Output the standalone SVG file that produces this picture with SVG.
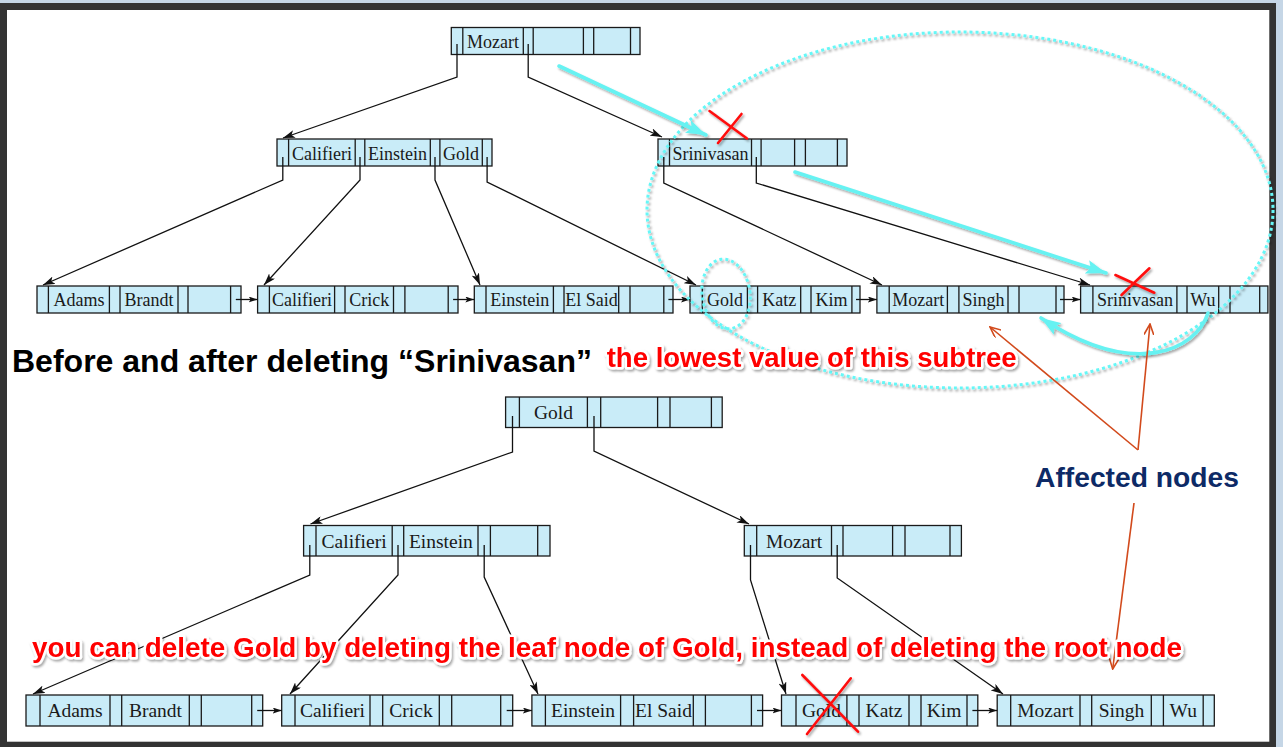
<svg xmlns="http://www.w3.org/2000/svg" width="1283" height="747" viewBox="0 0 1283 747">
<defs>
<style>
.nd rect{fill:#c9ecf8;stroke:#1a1a1a;stroke-width:1.3}
.nd path{fill:none;stroke:#1a1a1a;stroke-width:1.3}
.nd text{font-family:"Liberation Serif","DejaVu Serif",serif;fill:#1a1a1a;text-anchor:middle}
.t1 text{font-size:18px}
.t2 text{font-size:19.5px}
.cn path{fill:none;stroke:#111;stroke-width:1.3}
.cy{fill:none;stroke:#66f2f2;stroke-width:3.6;stroke-linecap:round}
.dot{fill:none;stroke:#66f7f7;stroke-width:3;stroke-dasharray:3 3}
.rx{stroke:#ff1010;stroke-width:2.6;fill:none;stroke-linecap:round}
.or{stroke:#d24a1c;stroke-width:1.6;fill:none}
.red{font-family:"Liberation Sans",Arial,sans-serif;font-weight:bold;fill:#ff0000;stroke:#ffffff;stroke-width:5;stroke-linejoin:round;paint-order:stroke}
</style>
<filter id="sh" x="-10%" y="-20%" width="125%" height="150%">
<feDropShadow dx="1.5" dy="2" stdDeviation="1.3" flood-color="#000" flood-opacity="0.35"/>
</filter>
<marker id="ah" viewBox="0 0 12 8" refX="12" refY="4" markerWidth="12" markerHeight="8" markerUnits="userSpaceOnUse" orient="auto">
<path d="M0,0 L12,4 L0,8 L3,4 z" fill="#111"/>
</marker>
<marker id="ahs" viewBox="0 0 9 6" refX="9" refY="3" markerWidth="9" markerHeight="6" markerUnits="userSpaceOnUse" orient="auto">
<path d="M0,0 L9,3 L0,6 L2,3 z" fill="#111"/>
</marker>
<marker id="ahc" viewBox="0 0 20 14" refX="20" refY="7" markerWidth="20" markerHeight="14" markerUnits="userSpaceOnUse" orient="auto">
<path d="M0,0 L20,7 L0,14 L4,7 z" fill="#66f2f2"/>
</marker>
<marker id="aho" viewBox="0 0 12 10" refX="11" refY="5" markerWidth="12" markerHeight="10" markerUnits="userSpaceOnUse" orient="auto">
<path d="M0,0 L11,5 L0,10" fill="none" stroke="#d24a1c" stroke-width="1.6"/>
</marker>
</defs>

<!-- frame -->
<rect x="0" y="0" width="1283" height="747" fill="#c5d6e6"/>
<rect x="0" y="3" width="1276" height="744" fill="#333333"/>
<rect x="7" y="10" width="1262.3" height="731.7" fill="#ffffff"/>

<!-- BEFORE tree -->
<g id="before-root" class="nd t1">
<rect x="451.3" y="27.5" width="188.7" height="27"/>
<path d="M462.8 27.5V54.5M523.3 27.5V54.5M533.2 27.5V54.5M583.4 27.5V54.5M593.7 27.5V54.5M630.5 27.5V54.5"/>
<text x="493" y="47.5">Mozart</text>
</g>
<g id="before-int-califieri" class="nd t1">
<rect x="277" y="139" width="215" height="27"/>
<path d="M288.6 139V166M355.2 139V166M364.8 139V166M430.3 139V166M439.9 139V166M482.3 139V166"/>
<text x="321.9" y="159.5">Califieri</text>
<text x="397.5" y="159.5">Einstein</text>
<text x="461.1" y="159.5">Gold</text>
</g>
<g id="before-int-srinivasan" class="nd t1">
<rect x="658" y="139" width="189" height="27"/>
<path d="M669.5 139V166M751.5 139V166M761.1 139V166M794.6 139V166M805.4 139V166M837.4 139V166"/>
<text x="710.5" y="159.5">Srinivasan</text>
</g>
<g id="before-leaf-adams" class="nd t1">
<rect x="37" y="286" width="204" height="27"/>
<path d="M48.4 286V313M109.4 286V313M120 286V313M178 286V313M188 286V313M230.6 286V313"/>
<text x="78.9" y="306">Adams</text>
<text x="149" y="306">Brandt</text>
</g>
<g id="before-leaf-califieri" class="nd t1">
<rect x="257.6" y="286" width="200.4" height="27"/>
<path d="M269.4 286V313M334.6 286V313M345 286V313M393.5 286V313M404.9 286V313M448.2 286V313"/>
<text x="302" y="306">Califieri</text>
<text x="369.3" y="306">Crick</text>
</g>
<g id="before-leaf-einstein" class="nd t1">
<rect x="474.3" y="286" width="198.7" height="27"/>
<path d="M486 286V313M553.4 286V313M564 286V313M618.7 286V313M630 286V313M663.8 286V313"/>
<text x="519.7" y="306">Einstein</text>
<text x="591.4" y="306">El Said</text>
</g>
<g id="before-leaf-gold" class="nd t1">
<rect x="690" y="286" width="170" height="27"/>
<path d="M702.3 286V313M747.4 286V313M757.6 286V313M800.7 286V313M811 286V313M851.9 286V313"/>
<text x="724.9" y="306">Gold</text>
<text x="779.2" y="306">Katz</text>
<text x="831.5" y="306">Kim</text>
</g>
<g id="before-leaf-mozart" class="nd t1">
<rect x="876.9" y="286" width="187.1" height="27"/>
<path d="M889.2 286V313M947.4 286V313M958.9 286V313M1008 286V313M1019 286V313M1056 286V313"/>
<text x="918.3" y="306">Mozart</text>
<text x="983.5" y="306">Singh</text>
</g>
<g id="before-leaf-srinivasan" class="nd t1">
<rect x="1080.6" y="286" width="187.3" height="27"/>
<path d="M1092.9 286V313M1176.9 286V313M1187 286V313M1218.7 286V313M1230 286V313M1259.7 286V313"/>
<text x="1134.9" y="306">Srinivasan</text>
<text x="1202.9" y="306">Wu</text>
</g>

<!-- AFTER tree -->
<g id="after-root" class="nd t2">
<rect x="505.6" y="397" width="216.6" height="30.5"/>
<path d="M519.4 397V427.5M587.4 397V427.5M600.7 397V427.5M657.6 397V427.5M670 397V427.5M711.4 397V427.5"/>
<text x="553.4" y="418.5">Gold</text>
</g>
<g id="after-int-califieri" class="nd t2">
<rect x="303.6" y="525.5" width="246.4" height="30.5"/>
<path d="M316 525.5V556M392.2 525.5V556M403.7 525.5V556M478 525.5V556M490.4 525.5V556M537.7 525.5V556"/>
<text x="354.1" y="547.5">Califieri</text>
<text x="440.9" y="547.5">Einstein</text>
</g>
<g id="after-int-mozart" class="nd t2">
<rect x="744.3" y="525.5" width="217.1" height="30.5"/>
<path d="M756.7 525.5V556M831.5 525.5V556M843 525.5V556M892.6 525.5V556M905 525.5V556M950 525.5V556"/>
<text x="794.1" y="547.5">Mozart</text>
</g>
<g id="after-leaf-adams" class="nd t2">
<rect x="26" y="695" width="236.7" height="31"/>
<path d="M40 695V726M110 695V726M121.7 695V726M189.3 695V726M201.3 695V726M251.7 695V726"/>
<text x="75" y="717">Adams</text>
<text x="155.5" y="717">Brandt</text>
</g>
<g id="after-leaf-califieri" class="nd t2">
<rect x="281.7" y="695" width="231" height="31"/>
<path d="M295 695V726M370 695V726M382.7 695V726M439.3 695V726M451.7 695V726M500.7 695V726"/>
<text x="332.5" y="717">Califieri</text>
<text x="411" y="717">Crick</text>
</g>
<g id="after-leaf-einstein" class="nd t2">
<rect x="531.9" y="695" width="230.7" height="31"/>
<path d="M545.4 695V726M620.6 695V726M633.6 695V726M693.3 695V726M705.4 695V726M751.4 695V726"/>
<text x="583" y="717">Einstein</text>
<text x="663.5" y="717">El Said</text>
</g>
<g id="after-leaf-gold" class="nd t2">
<rect x="781.5" y="695" width="196.3" height="31"/>
<path d="M796 695V726M846.9 695V726M859 695V726M909 695V726M921 695V726M967 695V726"/>
<text x="821.5" y="717">Gold</text>
<text x="884" y="717">Katz</text>
<text x="944" y="717">Kim</text>
</g>
<g id="after-leaf-mozart" class="nd t2">
<rect x="997.2" y="695" width="217.1" height="31"/>
<path d="M1010.7 695V726M1080 695V726M1091.7 695V726M1151.3 695V726M1163.4 695V726M1203.2 695V726"/>
<text x="1045.4" y="717">Mozart</text>
<text x="1121.5" y="717">Singh</text>
<text x="1183.3" y="717">Wu</text>
</g>

<!-- connectors -->
<g id="connectors" class="cn">
<path d="M457,44 V77 L283,138" marker-end="url(#ah)"/>
<path d="M528.2,44 V77 L662,137" marker-end="url(#ah)"/>
<path d="M282.8,157 V180 L43,285" marker-end="url(#ah)"/>
<path d="M360,157 V180 L264,285" marker-end="url(#ah)"/>
<path d="M435,157 V180 L480,285" marker-end="url(#ah)"/>
<path d="M487.1,157 V182 L696,285" marker-end="url(#ah)"/>
<path d="M663.8,157 V183 L882,285" marker-end="url(#ah)"/>
<path d="M756.3,157 V183 L1090,285" marker-end="url(#ah)"/>
<path d="M235.8,299.5 H257.6" marker-end="url(#ahs)"/>
<path d="M453.1,299.5 H474.3" marker-end="url(#ahs)"/>
<path d="M668.4,299.5 H690" marker-end="url(#ahs)"/>
<path d="M856,299.5 H876.9" marker-end="url(#ahs)"/>
<path d="M1060,299.5 H1080.6" marker-end="url(#ahs)"/>
<path d="M512.5,416 V452 L310.5,524" marker-end="url(#ah)"/>
<path d="M594,416 V451 L749,524" marker-end="url(#ah)"/>
<path d="M309.8,545 V575 L33,694" marker-end="url(#ah)"/>
<path d="M398,545 V575 L290,694" marker-end="url(#ah)"/>
<path d="M484.2,545 V577 L538,694" marker-end="url(#ah)"/>
<path d="M750.5,545 V580 L786,694" marker-end="url(#ah)"/>
<path d="M837.2,545 V578 L1003,694" marker-end="url(#ah)"/>
<path d="M257.2,710.5 H281.7" marker-end="url(#ahs)"/>
<path d="M506.7,710.5 H531.9" marker-end="url(#ahs)"/>
<path d="M757,710.5 H781.5" marker-end="url(#ahs)"/>
<path d="M972.4,710.5 H997.2" marker-end="url(#ahs)"/>
</g>

<!-- annotations -->
<g id="highlight-ellipses" filter="url(#sh)">
<ellipse class="dot" cx="960" cy="210" rx="313" ry="178"/>
<ellipse class="dot" cx="726" cy="294" rx="24" ry="35" transform="rotate(-8 726 294)"/>
</g>
<g id="cyan-arrows" filter="url(#sh)">
<path class="cy" d="M559,66 L706,135" marker-end="url(#ahc)"/>
<path class="cy" d="M795,172 L1106,273" marker-end="url(#ahc)"/>
<path class="cy" d="M1208,313 C1196,350 1135,380 1041,318" marker-end="url(#ahc)"/>
</g>
<g id="red-crosses" filter="url(#sh)">
<path class="rx" d="M709.5,111 L747,138.5 M741.5,114 L718,143"/>
<path class="rx" d="M1115.4,275 L1154.3,292.7 M1149.4,268.3 L1121.5,295"/>
<path class="rx" stroke-width="3" d="M802.3,675 L858,731.7 M850.8,678.3 L807,734"/>
</g>
<g id="affected-arrows">
<path class="or" d="M1138,450 L990,327" marker-end="url(#aho)"/>
<path class="or" d="M1138,450 L1150,324" marker-end="url(#aho)"/>
<path class="or" d="M1134,503 L1112.7,669" marker-end="url(#aho)"/>
</g>

<!-- texts -->
<text x="12" y="372" font-family="Liberation Sans, Arial, sans-serif" font-weight="bold" font-size="31" fill="#000" textLength="580" lengthAdjust="spacingAndGlyphs">Before and after deleting “Srinivasan”</text>
<text x="1035" y="487" font-family="Liberation Sans, Arial, sans-serif" font-weight="bold" font-size="28" fill="#0d2a66" textLength="204" lengthAdjust="spacingAndGlyphs">Affected nodes</text>
<g filter="url(#sh)">
<text class="red" x="606.7" y="367" font-size="28" textLength="410" lengthAdjust="spacingAndGlyphs">the lowest value of this subtree</text>
<text class="red" x="32" y="657" font-size="28" textLength="1150" lengthAdjust="spacingAndGlyphs">you can delete Gold by deleting the leaf node of Gold, instead of deleting the root node</text>
</g>
</svg>
